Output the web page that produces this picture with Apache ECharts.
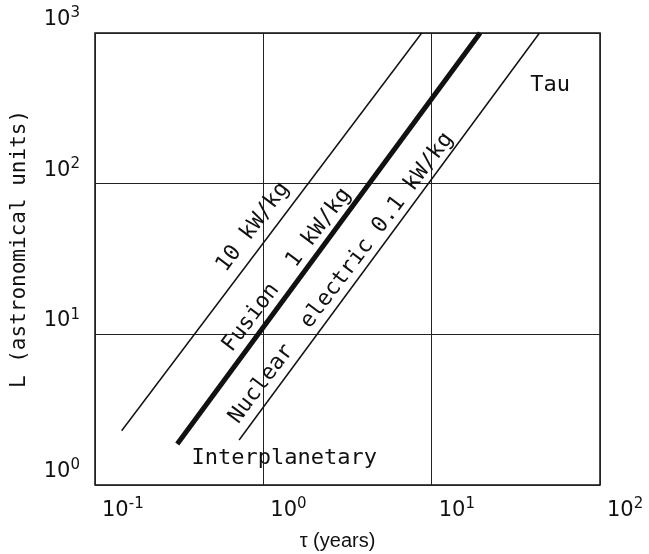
<!DOCTYPE html>
<html>
<head>
<meta charset="utf-8">
<script src="https://cdn.jsdelivr.net/npm/echarts@6/dist/echarts.min.js"></script>
<style>html,body{margin:0;padding:0;background:#fff;}#c{width:649px;height:554px;}</style>
</head>
<body>
<div id="c"></div>
<script>
// ---- data ----
var xTicks = [0.1, 1, 10, 100];
var xTickExp = ['-1', '0', '1', '2'];
var yTicks = [1, 10, 100, 1000];
var yTickExp = ['0', '1', '2', '3'];

var tenKW_tau = [0.144, 8.73];
var tenKW_L = [2.29, 1000];
var fusion_tau = [0.308, 19.4];
var fusion_L = [1.87, 1000];
var nuclear_tau = [0.718, 43.7];
var nuclear_L = [1.99, 1000];

var lineLabels = ['10 kW/kg', 'Fusion  1 kW/kg', 'Nuclear  electric 0.1 kW/kg'];
var lineLabelTau = [0.869, 1.38, 2.90];
var lineLabelL = [51.5, 26.7, 23.6];

var regionLabels = ['Tau', 'Interplanetary'];
var regionLabelTau = [50.5, 1.33];
var regionLabelL = [451, 1.51];

function pairs(xs, ys) { return xs.map(function (x, i) { return [x, ys[i]]; }); }
function tickFmt(ticks, exps) {
  return function (v) {
    for (var i = 0; i < ticks.length; i++) {
      if (Math.abs(Math.log10(v) - Math.log10(ticks[i])) < 1e-6) return '{b|10}{s|' + exps[i] + '}';
    }
    return '';
  };
}
var ink = '#111';
var letter = 'DejaVu Sans Mono';
var rich = {
  b: { fontFamily: 'DejaVu Sans', fontSize: 21, color: ink },
  s: { fontFamily: 'DejaVu Sans', fontSize: 15, color: ink, padding: [0, 0, 12, 0] }
};

var chart = echarts.init(document.getElementById('c'), null, { renderer: 'canvas' });
chart.setOption({
  backgroundColor: '#fff',
  animation: false,
  grid: { left: 95, right: 49, top: 33, bottom: 69, containLabel: false, outerBoundsMode: 'none', show: true, borderColor: ink, borderWidth: 1.5, backgroundColor: 'transparent' },
  xAxis: {
    type: 'log', logBase: 10, min: 0.1, max: 100,
    name: 'τ (years)', nameLocation: 'middle', nameGap: 46,
    nameTextStyle: { fontFamily: 'Liberation Sans', fontSize: 20, color: ink, padding: [0, 20, 0, 0] },
    axisLine: { show: false }, axisTick: { show: false },
    splitLine: { show: true, lineStyle: { color: '#222', width: 1 } },
    minorSplitLine: { show: false },
    axisLabel: { formatter: tickFmt(xTicks, xTickExp), rich: rich, align: 'left', margin: 12, padding: [0, 0, 0, 7], showMinLabel: true, showMaxLabel: true }
  },
  yAxis: {
    type: 'log', logBase: 10, min: 1, max: 1000,
    name: 'L (astronomical units)', nameLocation: 'middle', nameGap: 65, nameRotate: 90,
    nameTextStyle: { fontFamily: letter, fontSize: 21, color: ink, padding: [0, 0, 0, 20] },
    axisLine: { show: false }, axisTick: { show: false },
    splitLine: { show: true, lineStyle: { color: '#222', width: 1 } },
    axisLabel: { formatter: tickFmt(yTicks, yTickExp), rich: rich, align: 'right', verticalAlign: 'bottom', margin: 15, showMinLabel: true, showMaxLabel: true }
  },
  series: [
    { type: 'line', data: pairs(tenKW_tau, tenKW_L), showSymbol: false, symbol: 'none', lineStyle: { color: ink, width: 1.5 } },
    { type: 'line', data: pairs(fusion_tau, fusion_L), showSymbol: false, symbol: 'none', lineStyle: { color: ink, width: 5 } },
    { type: 'line', data: pairs(nuclear_tau, nuclear_L), showSymbol: false, symbol: 'none', lineStyle: { color: ink, width: 1.5 } },
    {
      type: 'scatter', symbolSize: 1, silent: true, itemStyle: { opacity: 1, color: 'rgba(0,0,0,0)' },
      data: lineLabels.map(function (t, i) { return { value: [lineLabelTau[i], lineLabelL[i]], name: t }; }),
      label: { show: true, position: 'inside', rotate: 53, formatter: function (p) { return p.name; }, fontFamily: letter, fontSize: 22, color: ink, textBorderWidth: 0 }
    },
    {
      type: 'scatter', symbolSize: 1, silent: true, itemStyle: { opacity: 1, color: 'rgba(0,0,0,0)' },
      data: regionLabels.map(function (t, i) { return { value: [regionLabelTau[i], regionLabelL[i]], name: t }; }),
      label: { show: true, position: 'inside', formatter: function (p) { return p.name; }, fontFamily: letter, fontSize: 22, color: ink, textBorderWidth: 0 }
    }
  ]
});
</script>
</body>
</html>
